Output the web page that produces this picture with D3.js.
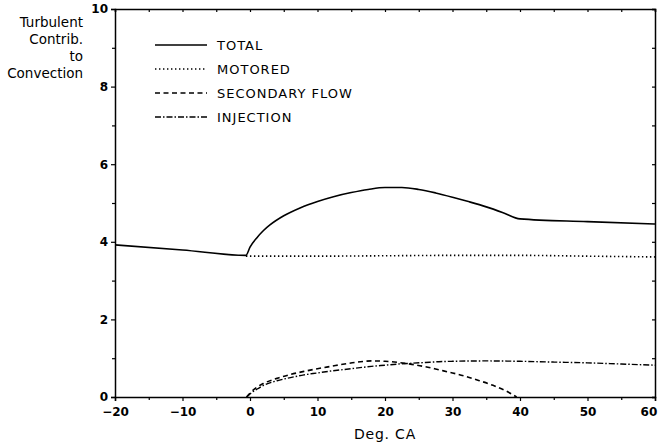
<!DOCTYPE html>
<html><head><meta charset="utf-8">
<script src="https://cdn.jsdelivr.net/npm/d3@7"></script>
<style>
body{margin:0;background:#fff;}
text{font-family:"DejaVu Sans",sans-serif;fill:#000;}
</style></head>
<body>
<svg id="chart" width="659" height="443"></svg>
<script>
const totalX = [-20, -10, -0.6, 0, 1, 2, 3, 5, 7.5, 10, 12.5, 15, 17.5, 20, 22.5, 25, 27.5, 30, 32.5, 35, 37.5, 40, 50, 60];
const totalY = [3.92, 3.79, 3.65, 3.86, 4.1, 4.29, 4.44, 4.67, 4.88, 5.04, 5.17, 5.27, 5.35, 5.4, 5.4, 5.35, 5.26, 5.15, 5.03, 4.9, 4.75, 4.59, 4.52, 4.46];
const motoredX = [-0.6, 10, 20, 30, 40, 50, 60];
const motoredY = [3.63, 3.63, 3.64, 3.65, 3.65, 3.63, 3.61];
const secondaryX = [-0.5, 0, 1, 2, 4, 6, 8, 10, 12, 14, 16, 18, 20, 22, 24, 26, 28, 30, 32, 34, 36, 38, 39.5];
const secondaryY = [0, 0.1, 0.25, 0.35, 0.48, 0.58, 0.66, 0.73, 0.79, 0.85, 0.9, 0.93, 0.92, 0.89, 0.84, 0.78, 0.7, 0.62, 0.53, 0.42, 0.3, 0.15, 0.0];
const injectionX = [-0.5, 0, 1, 2, 4, 6, 8, 10, 12, 14, 16, 18, 20, 22, 24, 26, 28, 30, 35, 40, 45, 50, 55, 60];
const injectionY = [0, 0.08, 0.2, 0.3, 0.42, 0.5, 0.57, 0.62, 0.67, 0.71, 0.75, 0.79, 0.82, 0.85, 0.87, 0.89, 0.91, 0.92, 0.93, 0.92, 0.9, 0.88, 0.85, 0.82];
const xTicks = [-20, -10, 0, 10, 20, 30, 40, 50, 60];
const xMinor = [-15, -5, 5, 15, 25, 35, 45, 55];
const yTicks = [0, 2, 4, 6, 8, 10];
const yMinor = [1, 3, 5, 7, 9];
const legendLabels = ["TOTAL", "MOTORED", "SECONDARY FLOW", "INJECTION"];
const yTitle = ["Turbulent", "Contrib.", "to", "Convection"];
const xTitle = "Deg. CA";

const svg = d3.select("#chart");
const L = 115, R = 655, T = 9, B = 397;
const x = d3.scaleLinear().domain([-20, 60]).range([L, R]);
const y = d3.scaleLinear().domain([0, 10]).range([B, T]);

const styles = [
  {dash: null, w: 1.6},
  {dash: "1.4,2.6", w: 1.6},
  {dash: "5,3.5", w: 1.6},
  {dash: "6,2,1.5,2", w: 1.4}
];
const series = [
  d3.zip(totalX, totalY), d3.zip(motoredX, motoredY),
  d3.zip(secondaryX, secondaryY), d3.zip(injectionX, injectionY)
];

// frame
const axisStyle = g => g.selectAll(".domain").attr("stroke", "#000").attr("stroke-width", 1.5);
svg.append("g").attr("transform", `translate(0,${B})`)
  .call(d3.axisBottom(x).tickValues(xTicks).tickSize(4).tickPadding(6).tickFormat(d3.format("d")))
  .call(axisStyle)
  .call(g => g.selectAll("text").attr("font-size", 12).attr("font-weight", "bold"))
  .call(g => g.selectAll(".tick text").filter(d => d === 60).attr("text-anchor", "end").attr("dx", "0.15em"));
svg.append("g").attr("transform", `translate(0,${B})`)
  .call(d3.axisBottom(x).tickValues(xMinor).tickSize(3).tickFormat(""))
  .call(g => g.select(".domain").remove());
svg.append("g").attr("transform", `translate(${L},0)`)
  .call(d3.axisLeft(y).tickValues(yTicks).tickSize(4).tickPadding(3).tickFormat(d3.format("d")))
  .call(axisStyle)
  .call(g => g.selectAll("text").attr("font-size", 12).attr("font-weight", "bold"));
svg.append("g").attr("transform", `translate(${L},0)`)
  .call(d3.axisLeft(y).tickValues(yMinor).tickSize(3).tickFormat(""))
  .call(g => g.select(".domain").remove());
svg.append("g").attr("transform", `translate(0,${T})`)
  .call(d3.axisBottom(x).tickValues(xTicks.concat(xMinor)).tickSize(3).tickFormat(""))
  .call(axisStyle);
svg.append("g").attr("transform", `translate(${R},0)`)
  .call(d3.axisLeft(y).tickValues(yTicks.concat(yMinor)).tickSize(3).tickFormat(""))
  .call(axisStyle);
svg.selectAll(".tick line").attr("stroke", "#000").attr("stroke-width", 1.2);

// lines
const line = d3.line().x(d => x(d[0])).y(d => y(d[1])).curve(d3.curveMonotoneX);
series.forEach((s, i) => {
  svg.append("path").datum(s).attr("d", line)
    .attr("fill", "none").attr("stroke", "#000")
    .attr("stroke-width", styles[i].w)
    .attr("stroke-dasharray", styles[i].dash);
});

// legend
const legY = [45, 69, 93, 117];
legendLabels.forEach((lab, i) => {
  svg.append("line").attr("x1", 155).attr("x2", 207).attr("y1", legY[i]).attr("y2", legY[i])
    .attr("stroke", "#000").attr("stroke-width", styles[i].w).attr("stroke-dasharray", styles[i].dash);
  svg.append("text").attr("x", 217).attr("y", legY[i]).attr("dy", "0.36em")
    .attr("font-size", 13).attr("letter-spacing", 1).text(lab);
});

// y title
yTitle.forEach((t, i) => {
  svg.append("text").attr("x", 83).attr("y", 22 + i * 17).attr("dy", "0.36em")
    .attr("text-anchor", "end").attr("font-size", 13.5).text(t);
});
// x title
svg.append("text").attr("x", (L + R) / 2).attr("y", 434).attr("dy", "0.36em")
  .attr("text-anchor", "middle").attr("font-size", 14).attr("letter-spacing", 0.8).text(xTitle);
</script>
</body></html>
